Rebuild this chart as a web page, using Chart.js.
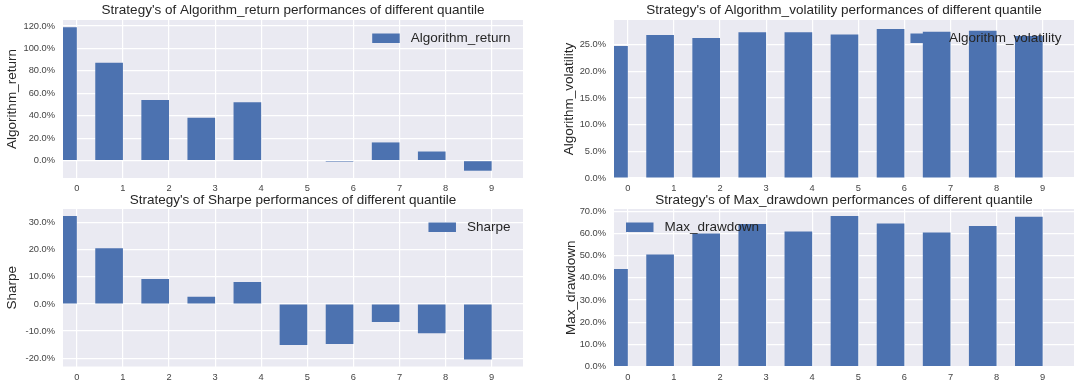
<!DOCTYPE html>
<html>
<head>
<meta charset="utf-8">
<script src="https://cdn.jsdelivr.net/npm/chart.js@4.4.1/dist/chart.umd.min.js"></script>
<style>
  html, body { margin: 0; padding: 0; background: #fff; }
  body { width: 1080px; height: 388px; position: relative; overflow: hidden; }
  .panel { position: absolute; width: 540px; }
</style>
</head>
<body>
<div class="panel" style="left:0;top:0;height:196px"><canvas id="cReturn"></canvas></div>
<div class="panel" style="left:540px;top:0;height:196px"><canvas id="cVol"></canvas></div>
<div class="panel" style="left:0;top:190px;height:198px"><canvas id="cSharpe"></canvas></div>
<div class="panel" style="left:540px;top:190px;height:198px"><canvas id="cDD"></canvas></div>
<script>
// quantile index 0..9 on the x axis
const quantiles = [0, 1, 2, 3, 4, 5, 6, 7, 8, 9];

// values in percent
const algoReturn     = [118.8, 87.1, 53.9, 38.3, 52.1, 0.0, -1.0, 16.2, 8.1, -9.0];
const algoVolatility = [24.75, 26.8, 26.25, 27.3, 27.3, 26.9, 27.9, 27.4, 27.6, 26.6];
const sharpe         = [32.5, 20.6, 9.2, 2.7, 8.1, -15.2, -14.8, -6.7, -10.8, -20.5];
const maxDrawdown    = [44.0, 50.6, 60.0, 64.3, 60.9, 67.9, 64.6, 60.5, 63.4, 67.6];

const FONT = "'Liberation Sans', Arial, sans-serif";
const BAR = '#4C72B0';
const TEXT = '#262626';

// grey axes background like seaborn darkgrid
const axesBg = {
  id: 'axesBg',
  beforeDraw(chart) {
    const { ctx, chartArea: a } = chart;
    ctx.save();
    ctx.fillStyle = '#EAEAF2';
    ctx.fillRect(a.left, a.top, a.right - a.left, a.bottom - a.top);
    ctx.restore();
  }
};

// legend drawn inside the axes, matplotlib style
const innerLegend = {
  id: 'innerLegend',
  afterDatasetsDraw(chart, args, o) {
    if (!o || !o.text) return;
    const { ctx, chartArea: a } = chart;
    ctx.save();
    ctx.font = '13.5px ' + FONT;
    const tw = ctx.measureText(o.text).width;
    const pw = 27.5, gap = 11;
    let px;
    if (o.corner === 'left') px = a.left + 12;
    else px = a.right - 12.5 - tw - gap - pw;
    ctx.fillStyle = BAR;
    ctx.fillRect(px, a.top + 13.5, pw, 9.5);
    ctx.fillStyle = TEXT;
    ctx.textBaseline = 'middle';
    ctx.textAlign = 'left';
    ctx.fillText(o.text, px + pw + gap, a.top + 18.5);
    ctx.restore();
  }
};

function makePanel(id, name, values, yMin, yMax, step, lay) {
  new Chart(document.getElementById(id), {
    type: 'bar',
    data: {
      datasets: [{
        label: name,
        data: quantiles.map((q, i) => ({ x: q - 0.3, y: values[i] })),
        backgroundColor: BAR,
        borderWidth: 0,
        categoryPercentage: 1,
        barPercentage: 0.6
      }]
    },
    options: {
      responsive: true,
      maintainAspectRatio: false,
      animation: false,
      layout: { padding: { left: lay.left, right: lay.right, top: 0, bottom: 0 } },
      plugins: {
        legend: { display: false },
        tooltip: { enabled: false },
        title: {
          display: true,
          fullSize: false,
          text: "Strategy's of " + name + ' performances of different quantile',
          color: TEXT,
          font: { family: FONT, size: 13.5, weight: 'normal' },
          padding: { top: lay.tTop, bottom: lay.tBottom }
        },
        innerLegend: { text: name, corner: lay.corner }
      },
      scales: {
        x: {
          type: 'linear',
          offset: false,
          min: -0.3, max: 9.68,
          afterFit: s => { s.height = lay.xh; },
          grid: { color: '#fff', lineWidth: 1.2, drawTicks: false, offset: false },
          border: { display: false },
          ticks: {
            stepSize: 1, includeBounds: false, padding: lay.xPad,
            color: '#444', font: { family: FONT, size: 9.3 },
            callback: v => String(v)
          }
        },
        y: {
          min: yMin, max: yMax,
          afterFit: s => { s.width = lay.yw; },
          grid: { color: '#fff', lineWidth: 1.2, drawTicks: false },
          border: { display: false },
          ticks: {
            stepSize: step, includeBounds: false, padding: 8,
            color: '#444', font: { family: FONT, size: 9.3 },
            callback: v => v.toFixed(1) + '%'
          },
          title: {
            display: true, text: name, color: TEXT,
            font: { family: FONT, size: 13.5 },
            padding: { top: 4.6, bottom: 0 }
          }
        }
      }
    },
    plugins: [axesBg, innerLegend]
  });
}

const topLay = { tTop: 2.4, tBottom: 1.4, xh: 18, xPad: 4.9 };
const botLay = { tTop: 1.9, tBottom: 0.9, xh: 21.5, xPad: 5.4 };

makePanel('cReturn', 'Algorithm_return', algoReturn, -15.5, 125.3, 20,
  Object.assign({ left: 0, right: 17, yw: 63, corner: 'right' }, topLay));
makePanel('cVol', 'Algorithm_volatility', algoVolatility, 0, 29.6, 5,
  Object.assign({ left: 16.7, right: 6, yw: 57.3, corner: 'right' }, topLay));
makePanel('cSharpe', 'Sharpe', sharpe, -23.1, 35.1, 10,
  Object.assign({ left: 0, right: 17, yw: 63, corner: 'right' }, botLay));
makePanel('cDD', 'Max_drawdown', maxDrawdown, 0, 71.1, 10,
  Object.assign({ left: 18.4, right: 6, yw: 55.6, corner: 'left' }, botLay));
</script>
</body>
</html>
